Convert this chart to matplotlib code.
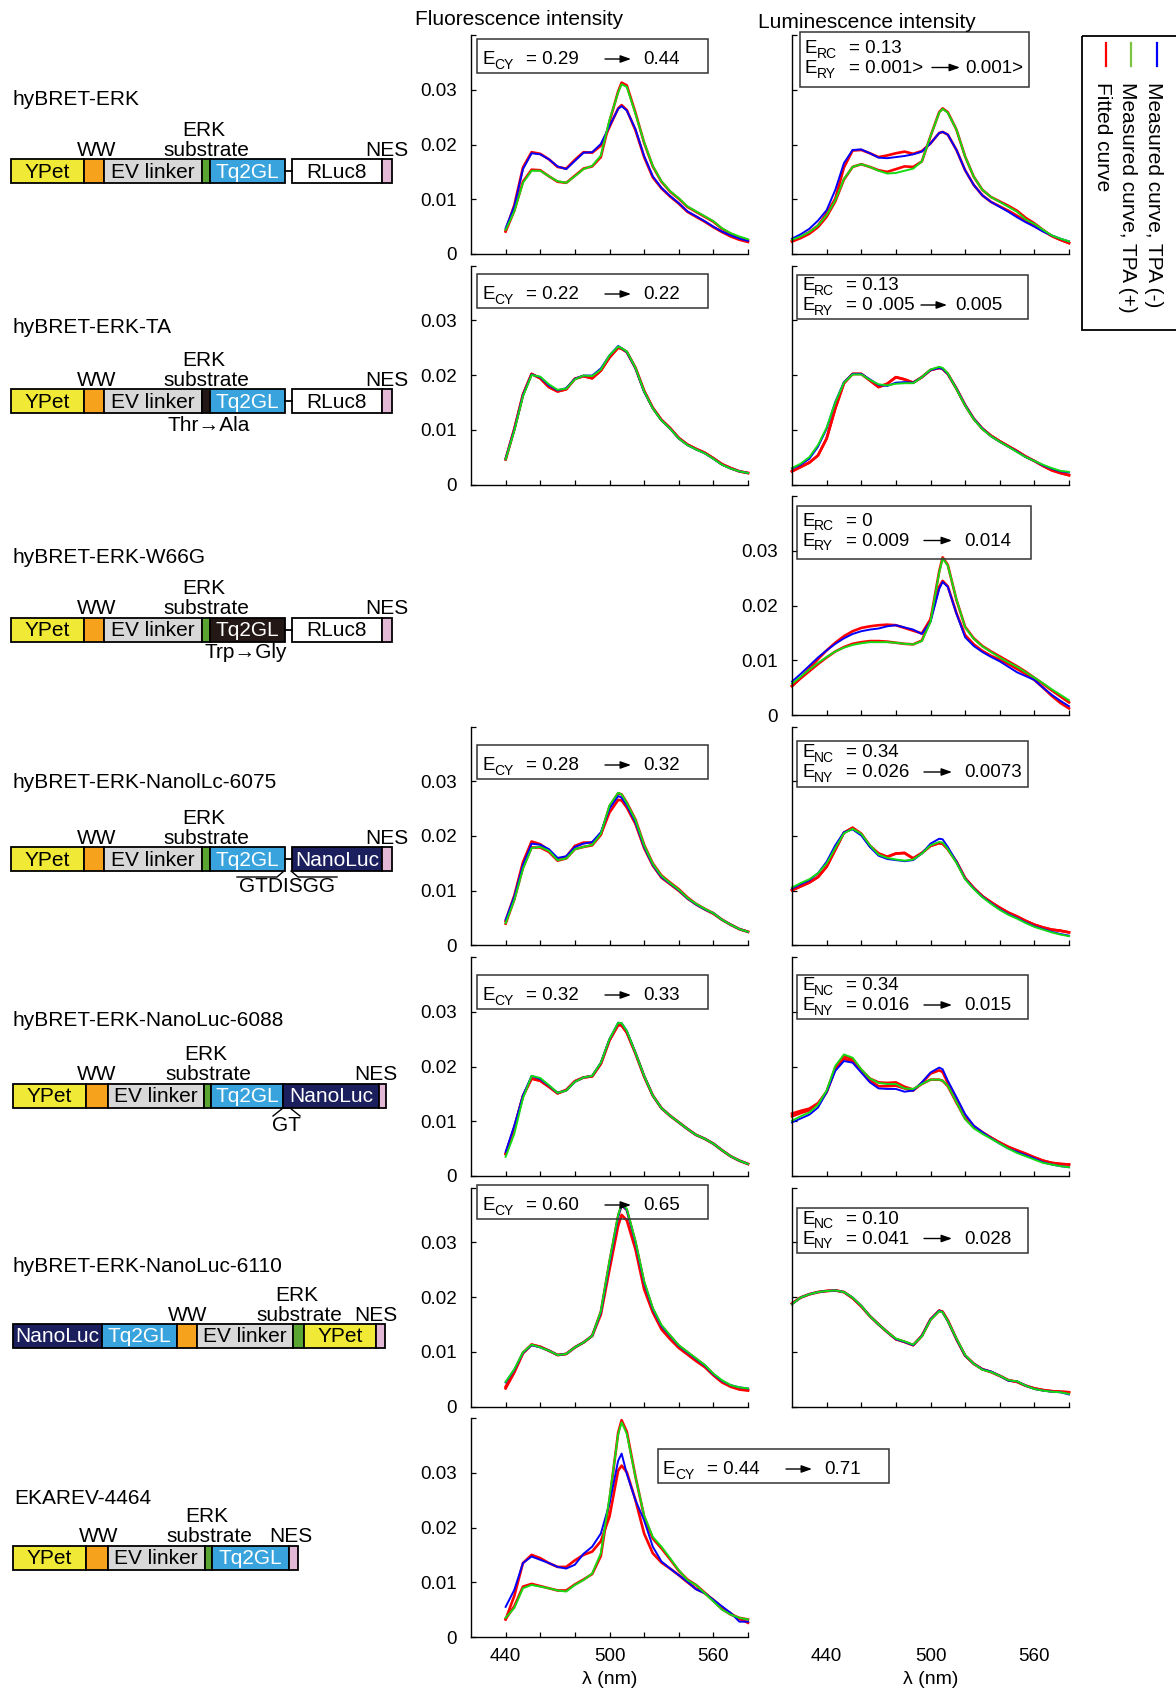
import numpy as np
import matplotlib
matplotlib.use('Agg')
import matplotlib.pyplot as plt
from matplotlib.patches import Rectangle

plt.rcParams['font.family'] = ['Liberation Sans', 'DejaVu Sans']

# Figure size in pixels
W, H = 1176, 1689

# Wavelengths (nm); fluorescence spectra start at 440, luminescence at 420
WL_F = [440, 445, 450, 455, 460, 465, 470, 475, 480, 485, 490, 495, 500, 505, 507,
        510, 515, 520, 525, 530, 535, 540, 545, 550, 555, 560, 565, 570, 575, 580]
WL_L = [420, 425, 430, 435] + WL_F

# Intensities, in units of 1e-3
# hyBRET-ERK
F1_BLUE = [4.7, 8.7, 15.5, 18.4, 18.2, 17.3, 16.0, 15.5, 17.0, 18.5, 18.6, 20.1, 23.4, 26.5, 27.0,
           26.2, 22.8, 17.9, 14.2, 12.1, 10.6, 9.3, 7.8, 6.9, 6.0, 5.0, 4.1, 3.4, 2.8, 2.4]
F1_GREEN = [4.4, 7.8, 13.0, 15.2, 15.2, 14.2, 13.3, 13.0, 14.2, 15.5, 16.1, 18.0, 24.5, 29.5, 31.0,
            30.5, 25.6, 20.4, 16.1, 13.3, 11.5, 10.2, 8.7, 7.8, 6.9, 6.0, 4.7, 3.8, 3.2, 2.7]
F1_FIT_M = [4.3, 8.9, 15.8, 18.6, 18.3, 17.3, 15.9, 15.6, 17.2, 18.6, 18.5, 19.8, 23.2, 26.6, 27.2,
            26.3, 22.6, 17.7, 14.0, 12.0, 10.5, 9.2, 7.7, 6.8, 5.9, 4.9, 4.0, 3.2, 2.6, 2.2]
F1_FIT_P = [4.1, 7.9, 13.2, 15.4, 15.3, 14.2, 13.2, 13.0, 14.3, 15.6, 16.0, 17.7, 24.2, 29.7, 31.3,
            30.8, 25.8, 20.3, 16.0, 13.2, 11.4, 10.1, 8.6, 7.7, 6.8, 5.9, 4.6, 3.7, 3.0, 2.5]
L1_BLUE = [2.8, 3.6, 4.6, 6.1, 8.0, 11.7, 16.6, 19.0, 19.1, 18.4, 17.6, 17.5, 17.7, 17.9, 18.2, 18.7, 20.2,
           22.1, 22.3, 21.8, 19.0, 15.3, 12.6, 10.7, 9.5, 8.6, 7.7, 6.7, 5.8, 5.0, 4.1, 3.4, 2.8, 2.3]
L1_GREEN = [2.6, 3.2, 4.0, 5.2, 7.1, 9.8, 13.7, 15.9, 16.4, 15.9, 15.2, 14.7, 14.8, 15.2, 15.6, 16.9, 21.5,
            25.8, 26.5, 25.8, 22.7, 17.8, 14.1, 11.7, 10.4, 9.5, 8.6, 7.7, 6.3, 5.5, 4.4, 3.4, 2.8, 2.3]
L1_FIT_M = [2.3, 3.1, 4.0, 5.2, 7.4, 10.1, 15.8, 18.9, 19.0, 18.4, 17.7, 18.0, 18.4, 18.7, 18.3, 18.8, 20.2,
            22.1, 22.3, 21.8, 19.0, 15.3, 12.6, 10.7, 9.5, 8.7, 7.9, 7.0, 6.0, 5.1, 4.2, 3.3, 2.6, 2.0]
L1_FIT_P = [2.3, 2.9, 3.7, 4.9, 6.8, 9.6, 13.6, 15.9, 16.4, 15.9, 15.3, 15.0, 15.5, 16.0, 15.9, 16.9, 21.5,
            25.9, 26.6, 25.9, 22.7, 17.8, 14.1, 11.7, 10.4, 9.6, 8.8, 7.9, 6.6, 5.6, 4.4, 3.3, 2.6, 2.0]

# hyBRET-ERK-TA
F2_BLUE = [4.7, 10.0, 16.3, 20.1, 19.6, 18.1, 17.2, 17.6, 19.3, 19.9, 19.9, 21.2, 23.6, 25.3, 24.9,
           24.2, 21.2, 16.9, 13.9, 11.7, 10.2, 8.4, 7.2, 6.4, 5.7, 4.7, 3.6, 2.9, 2.4, 2.1]
F2_GREEN = [4.6, 9.8, 16.1, 20.0, 19.7, 18.3, 17.3, 17.5, 19.2, 19.9, 19.8, 21.0, 23.6, 25.2, 24.9,
            24.3, 21.3, 17.0, 13.9, 11.7, 10.2, 8.4, 7.2, 6.4, 5.7, 4.7, 3.6, 2.9, 2.4, 2.1]
F2_FIT = [4.6, 10.1, 16.4, 20.2, 19.4, 17.8, 17.0, 17.4, 19.3, 19.8, 19.4, 20.8, 23.2, 25.0, 24.8,
          24.2, 21.3, 17.1, 14.0, 11.8, 10.3, 8.5, 7.3, 6.5, 5.8, 4.8, 3.7, 3.0, 2.4, 2.1]
L2_BLUE = [2.9, 3.6, 4.7, 6.9, 10.2, 15.1, 18.7, 20.2, 20.2, 19.2, 18.2, 18.0, 18.6, 18.7, 18.6, 19.6, 20.9,
           21.3, 21.1, 20.2, 17.5, 14.5, 12.0, 10.2, 8.8, 7.8, 6.9, 6.0, 5.0, 4.3, 3.5, 2.9, 2.4, 2.2]
L2_GREEN = [3.0, 3.8, 5.0, 7.2, 10.4, 15.0, 18.6, 20.1, 20.1, 19.1, 18.3, 18.1, 18.4, 18.5, 18.5, 19.6, 21.0,
            21.5, 21.3, 20.3, 17.4, 14.4, 11.9, 10.1, 8.8, 7.8, 6.9, 5.9, 5.0, 4.3, 3.6, 3.0, 2.5, 2.3]
L2_FIT = [2.4, 3.2, 4.0, 5.3, 8.4, 13.9, 18.5, 20.2, 20.2, 19.0, 17.8, 18.4, 19.6, 19.2, 18.6, 19.6, 20.9,
          21.3, 21.1, 20.2, 17.5, 14.5, 12.0, 10.2, 8.9, 7.9, 7.0, 6.1, 5.1, 4.3, 3.4, 2.6, 2.1, 1.7]

# hyBRET-ERK-W66G
L3_BLUE = [6.1, 7.5, 9.0, 10.5, 11.8, 13.0, 14.0, 14.8, 15.3, 15.6, 15.8, 16.2, 16.4, 16.0, 15.6, 14.8, 17.0,
           23.0, 24.3, 23.4, 18.5, 14.2, 12.6, 11.5, 10.6, 9.8, 8.8, 7.8, 7.1, 6.4, 5.0, 3.7, 2.6, 1.6]
L3_GREEN = [5.7, 7.0, 8.3, 9.5, 10.6, 11.6, 12.3, 12.8, 13.1, 13.3, 13.3, 13.3, 13.2, 13.0, 12.9, 13.5, 17.0,
            26.0, 28.6, 27.3, 21.1, 16.0, 13.9, 12.5, 11.5, 10.5, 9.6, 8.8, 7.8, 6.8, 5.8, 4.7, 3.7, 2.7]
L3_FIT_M = [5.3, 6.8, 8.5, 10.2, 11.8, 13.2, 14.4, 15.3, 15.9, 16.2, 16.4, 16.5, 16.4, 15.9, 15.4, 14.9, 17.5,
            23.4, 24.5, 23.5, 18.6, 14.6, 12.9, 11.7, 10.8, 10.1, 9.3, 8.4, 7.5, 6.4, 5.0, 3.5, 2.2, 1.2]
L3_FIT_P = [5.3, 6.7, 8.0, 9.3, 10.5, 11.6, 12.4, 13.0, 13.3, 13.5, 13.5, 13.4, 13.2, 13.0, 12.9, 13.6, 17.3,
            26.2, 28.8, 27.4, 21.0, 16.1, 14.0, 12.6, 11.6, 10.7, 9.8, 8.9, 7.9, 6.8, 5.7, 4.5, 3.4, 2.3]

# hyBRET-ERK-NanolLc-6075
F4_BLUE = [4.7, 8.9, 14.7, 18.6, 18.4, 17.6, 16.0, 16.3, 18.0, 18.6, 18.9, 20.7, 25.0, 27.3, 27.0,
           25.6, 22.5, 18.0, 14.7, 12.5, 11.3, 10.1, 8.6, 7.5, 6.6, 5.9, 4.7, 3.8, 3.0, 2.5]
F4_GREEN = [4.1, 8.3, 14.0, 17.8, 18.0, 17.3, 15.6, 15.9, 17.6, 18.0, 18.4, 20.4, 25.6, 27.9, 27.6,
            26.0, 22.9, 18.3, 14.9, 12.7, 11.4, 10.2, 8.7, 7.6, 6.7, 5.9, 4.7, 3.8, 3.0, 2.5]
F4_FIT_M = [4.5, 9.1, 15.2, 19.0, 18.5, 17.4, 15.7, 16.2, 18.2, 18.8, 18.8, 20.3, 24.3, 26.6, 26.5,
            25.2, 22.2, 17.8, 14.6, 12.4, 11.2, 10.0, 8.6, 7.5, 6.6, 5.8, 4.7, 3.8, 3.0, 2.5]
F4_FIT_P = [4.0, 8.4, 14.2, 17.9, 17.9, 17.1, 15.5, 15.9, 17.6, 18.0, 18.3, 20.2, 25.4, 27.8, 27.6,
            26.1, 23.0, 18.4, 15.0, 12.8, 11.5, 10.3, 8.8, 7.6, 6.7, 5.9, 4.7, 3.8, 3.0, 2.5]
L4_BLUE = [10.4, 11.2, 11.9, 13.2, 15.3, 18.3, 20.7, 21.2, 20.1, 18.0, 16.4, 15.8, 15.6, 15.4, 15.6, 16.8, 18.6,
           19.5, 19.4, 18.0, 15.3, 12.2, 10.4, 8.9, 7.7, 6.6, 5.7, 5.0, 4.2, 3.5, 3.0, 2.5, 2.1, 1.8]
L4_GREEN = [10.6, 11.4, 12.1, 13.2, 15.0, 17.8, 20.5, 21.3, 20.4, 18.3, 16.6, 16.0, 15.7, 15.5, 15.7, 16.8, 18.3,
            18.9, 18.8, 17.6, 15.1, 12.1, 10.3, 8.8, 7.6, 6.5, 5.6, 4.9, 4.1, 3.4, 2.9, 2.4, 2.0, 1.7]
L4_FIT = [10.1, 10.8, 11.5, 12.5, 14.4, 17.5, 20.6, 21.5, 20.4, 18.2, 16.8, 16.2, 16.8, 16.9, 15.9, 16.9, 18.2,
          18.7, 18.6, 17.6, 15.3, 12.3, 10.5, 9.0, 7.9, 6.9, 6.0, 5.3, 4.5, 3.8, 3.3, 2.9, 2.7, 2.4]

# hyBRET-ERK-NanoLuc-6088
F5_BLUE = [4.4, 9.2, 14.7, 18.3, 17.7, 16.5, 15.2, 15.6, 17.2, 18.0, 18.3, 20.7, 25.0, 28.0, 27.9,
           26.5, 22.5, 18.3, 14.7, 12.4, 11.0, 9.8, 8.6, 7.5, 6.8, 5.9, 4.7, 3.6, 2.8, 2.2]
F5_GREEN = [3.5, 7.7, 14.2, 18.3, 17.9, 16.6, 15.2, 15.6, 17.2, 18.0, 18.3, 20.7, 25.0, 28.0, 27.9,
            26.5, 22.5, 18.3, 14.7, 12.4, 11.0, 9.8, 8.6, 7.5, 6.8, 5.9, 4.7, 3.6, 2.8, 2.2]
F5_FIT = [4.0, 8.8, 14.6, 17.8, 17.4, 16.3, 15.1, 15.7, 17.3, 18.0, 18.2, 20.5, 24.8, 27.6, 27.5,
          26.2, 22.4, 18.2, 14.7, 12.4, 11.0, 9.8, 8.6, 7.5, 6.8, 5.9, 4.7, 3.6, 2.8, 2.2]
L5_BLUE = [9.8, 10.5, 11.2, 12.5, 15.3, 19.2, 21.0, 20.7, 18.9, 17.1, 16.0, 15.9, 15.9, 15.4, 15.6, 17.1, 18.9,
           19.8, 19.5, 17.4, 14.4, 11.3, 9.2, 8.0, 6.9, 5.9, 5.0, 4.4, 3.8, 3.2, 2.5, 2.1, 1.8, 1.6]
L5_GREEN = [10.1, 10.9, 11.6, 13.0, 15.6, 20.1, 22.2, 21.6, 19.5, 17.8, 17.0, 16.8, 16.8, 16.0, 15.9, 16.8, 17.6,
            17.6, 17.4, 16.5, 13.5, 10.4, 8.7, 7.7, 6.8, 5.9, 5.0, 4.2, 3.6, 3.0, 2.4, 2.1, 1.8, 1.6]
L5_FIT_M = [10.9, 11.5, 12.0, 13.0, 15.3, 19.5, 21.4, 21.0, 19.2, 17.4, 16.4, 16.4, 16.5, 16.0, 15.6, 17.0, 18.7,
            19.3, 19.0, 17.0, 14.0, 11.0, 9.1, 8.0, 7.0, 6.1, 5.3, 4.7, 4.1, 3.4, 2.8, 2.4, 2.2, 2.1]
L5_FIT_P = [11.4, 11.9, 12.3, 13.3, 15.4, 19.8, 21.9, 21.4, 19.4, 17.8, 17.1, 17.0, 17.1, 16.3, 15.8, 16.8, 17.6,
            17.6, 17.4, 16.4, 13.4, 10.5, 8.9, 7.9, 7.0, 6.1, 5.3, 4.6, 4.0, 3.4, 2.8, 2.4, 2.2, 2.1]

# hyBRET-ERK-NanoLuc-6110
F6_BLUE = [4.4, 6.7, 9.8, 11.2, 10.8, 10.2, 9.4, 9.6, 10.8, 11.7, 12.9, 17.2, 26.2, 34.7, 36.8,
           35.9, 29.9, 22.6, 17.8, 14.7, 12.9, 11.1, 9.9, 8.7, 7.5, 5.9, 4.7, 3.9, 3.5, 3.3]
F6_GREEN = [4.5, 6.8, 9.9, 11.3, 10.8, 10.2, 9.4, 9.6, 10.8, 11.7, 12.9, 17.4, 26.6, 35.0, 37.0,
            36.1, 30.2, 22.9, 18.0, 14.9, 13.0, 11.2, 10.0, 8.8, 7.6, 6.0, 4.8, 3.9, 3.5, 3.3]
F6_FIT_M = [3.3, 6.2, 9.7, 11.3, 10.9, 10.2, 9.4, 9.6, 10.8, 11.7, 12.9, 16.8, 25.0, 33.0, 35.0,
            34.0, 28.7, 21.4, 17.2, 14.1, 12.3, 10.7, 9.5, 8.3, 7.2, 5.7, 4.4, 3.6, 3.1, 2.9]
F6_FIT_P = [3.6, 6.4, 9.8, 11.3, 10.9, 10.2, 9.4, 9.6, 10.8, 11.7, 12.9, 17.3, 26.4, 34.8, 36.8,
            35.9, 30.0, 22.6, 17.8, 14.7, 12.9, 11.1, 9.9, 8.7, 7.5, 5.9, 4.6, 3.8, 3.3, 3.1]
L6_BLUE = [18.7, 19.9, 20.5, 20.9, 21.1, 21.2, 20.9, 19.9, 18.4, 16.5, 15.0, 13.6, 12.3, 11.8, 11.2, 12.9, 15.9,
           17.5, 17.2, 15.6, 12.3, 9.3, 7.8, 6.8, 6.4, 5.6, 4.7, 4.6, 3.8, 3.2, 2.9, 2.7, 2.6, 2.2]
L6_GREEN = [18.7, 19.9, 20.5, 20.9, 21.1, 21.2, 20.9, 19.9, 18.4, 16.5, 15.0, 13.6, 12.4, 11.9, 11.3, 12.8, 15.8,
            17.4, 17.2, 15.6, 12.4, 9.4, 7.8, 6.7, 6.3, 5.6, 4.8, 4.6, 3.8, 3.2, 2.9, 2.7, 2.6, 2.3]
L6_FIT = [18.8, 19.9, 20.5, 20.9, 21.1, 21.2, 20.9, 19.8, 18.3, 16.5, 15.0, 13.6, 12.3, 11.8, 11.2, 12.9, 15.9,
          17.5, 17.3, 15.7, 12.3, 9.3, 7.8, 6.8, 6.3, 5.6, 4.8, 4.5, 3.8, 3.3, 3.0, 2.8, 2.7, 2.6]

# EKAREV-4464
F7_BLUE = [5.5, 8.6, 13.5, 14.7, 14.1, 13.5, 12.8, 12.5, 13.2, 15.2, 16.5, 18.9, 24.4, 32.2, 33.5,
           29.8, 25.0, 21.3, 16.5, 13.8, 12.5, 11.3, 10.1, 8.7, 8.0, 6.8, 5.6, 4.4, 2.8, 2.8]
F7_GREEN = [3.5, 5.3, 8.9, 9.5, 9.2, 8.9, 8.5, 8.3, 9.5, 10.4, 11.6, 15.3, 25.5, 37.0, 39.2,
            37.1, 29.2, 22.2, 18.3, 16.5, 14.4, 12.2, 10.4, 9.5, 8.0, 6.5, 5.0, 4.1, 3.5, 3.2]
F7_FIT_M = [3.2, 7.5, 13.5, 15.0, 14.4, 13.5, 12.8, 12.8, 14.0, 15.0, 15.6, 17.5, 22.0, 30.4, 31.3,
            30.1, 25.0, 18.9, 15.3, 13.6, 12.5, 11.3, 10.0, 8.8, 8.0, 6.8, 5.4, 4.3, 3.3, 2.6]
F7_FIT_P = [3.3, 5.6, 9.2, 9.7, 9.3, 8.9, 8.5, 8.5, 9.6, 10.5, 11.5, 14.8, 25.0, 37.3, 39.6,
            37.5, 29.3, 22.0, 18.0, 16.2, 14.2, 12.1, 10.5, 9.5, 8.1, 6.6, 5.1, 4.1, 3.5, 3.2]

# (row, column, wavelengths, TPA(-), TPA(+), fit(-), fit(+))
PANELS = [
    (0, 'F', WL_F, F1_BLUE, F1_GREEN, F1_FIT_M, F1_FIT_P),
    (0, 'L', WL_L, L1_BLUE, L1_GREEN, L1_FIT_M, L1_FIT_P),
    (1, 'F', WL_F, F2_BLUE, F2_GREEN, F2_FIT, F2_FIT),
    (1, 'L', WL_L, L2_BLUE, L2_GREEN, L2_FIT, L2_FIT),
    (2, 'L', WL_L, L3_BLUE, L3_GREEN, L3_FIT_M, L3_FIT_P),
    (3, 'F', WL_F, F4_BLUE, F4_GREEN, F4_FIT_M, F4_FIT_P),
    (3, 'L', WL_L, L4_BLUE, L4_GREEN, L4_FIT, L4_FIT),
    (4, 'F', WL_F, F5_BLUE, F5_GREEN, F5_FIT, F5_FIT),
    (4, 'L', WL_L, L5_BLUE, L5_GREEN, L5_FIT_M, L5_FIT_P),
    (5, 'F', WL_F, F6_BLUE, F6_GREEN, F6_FIT_M, F6_FIT_P),
    (5, 'L', WL_L, L6_BLUE, L6_GREEN, L6_FIT, L6_FIT),
    (6, 'F', WL_F, F7_BLUE, F7_GREEN, F7_FIT_M, F7_FIT_P),
]

NAMES = ['hyBRET-ERK', 'hyBRET-ERK-TA', 'hyBRET-ERK-W66G', 'hyBRET-ERK-NanolLc-6075',
         'hyBRET-ERK-NanoLuc-6088', 'hyBRET-ERK-NanoLuc-6110', 'EKAREV-4464']

# layout (pixels, origin top-left)
ROW_BOTTOM = [254 + 230.5 * r for r in range(7)]
AX_H = 219
AX_W = 277
COL_LEFT = {'F': 471, 'L': 792}
RED, GREEN, BLUE = '#ff0000', '#14dc14', '#0000ff'
TICK_FS = 13.5

fig = plt.figure(figsize=(W / 100, H / 100), dpi=100)


def make_axes(row, col):
    b = ROW_BOTTOM[row]
    ax = fig.add_axes([COL_LEFT[col] / W, 1 - b / H, AX_W / W, AX_H / H])
    ax.set_xlim(420, 580)
    ax.set_ylim(0, 0.04)
    for s in ['top', 'right']:
        ax.spines[s].set_visible(False)
    for s in ['left', 'bottom']:
        ax.spines[s].set_linewidth(1.0)
    ax.set_xticks(range(440, 581, 20))
    ax.set_yticks([0, 0.01, 0.02, 0.03, 0.04])
    ax.tick_params(direction='in', length=3.5, width=0.9, labelsize=TICK_FS)
    ax.tick_params(axis='y', pad=10)
    ax.tick_params(axis='x', pad=8)
    ax.set_xticklabels([])
    if col == 'F' or row == 2:
        ax.set_yticklabels(['0', '0.01', '0.02', '0.03', ''])
    else:
        ax.set_yticklabels([])
    return ax


for row, col, wl, blue, green, fit_m, fit_p in PANELS:
    ax = make_axes(row, col)
    x = np.array(wl)
    ax.plot(x, np.array(fit_m) * 1e-3, color=RED, lw=1.9, clip_on=False)
    ax.plot(x, np.array(fit_p) * 1e-3, color=RED, lw=1.9, clip_on=False)
    ax.plot(x, np.array(blue) * 1e-3, color=BLUE, lw=1.4, clip_on=False)
    ax.plot(x, np.array(green) * 1e-3, color=GREEN, lw=1.4, clip_on=False)
    if row == 6:
        ax.set_xticklabels(['440', '', '', '500', '', '', '560', ''])
        ax.set_xlabel('\u03bb (nm)', fontsize=14, labelpad=4)

# bottom labels under the empty luminescence slot
axl = make_axes(6, 'L')
for s in axl.spines.values():
    s.set_visible(False)
axl.set_yticks([])
axl.set_xticks([440, 500, 560])
axl.set_xticklabels(['440', '500', '560'])
axl.tick_params(axis='x', length=0, pad=8)
axl.set_xlabel('\u03bb (nm)', fontsize=14, labelpad=4)
axl.patch.set_visible(False)

# overlay in pixel coordinates for diagrams, boxes and legend
ov = fig.add_axes([0, 0, 1, 1], zorder=10)
ov.set_xlim(0, W)
ov.set_ylim(H, 0)
ov.axis('off')
ov.patch.set_visible(False)

ov.text(519, 19, 'Fluorescence intensity', ha='center', va='center', fontsize=15)
ov.text(867, 22, 'Luminescence intensity', ha='center', va='center', fontsize=15)

# construct diagrams
YPET, WWC, EV, SUB, TQ, NANO, NES, DARK = ('#f0e936', '#f6a21c', '#d8d8d8', '#5aa532',
                                           '#38a3dc', '#1c1f5e', '#e3b8d6', '#231815')
BAR_H = 24


def std_segments(sub_c, tq_c, luc_c, luc_name, luc_tc):
    return [(11, 84, YPET, 'YPet', 'k'), (84, 104, WWC, '', 'k'), (104, 202, EV, 'EV linker', 'k'),
            (202, 210, sub_c, '', 'k'), (210, 285, tq_c, 'Tq2GL', 'w'),
            (292, 382, luc_c, luc_name, luc_tc), (382, 392, NES, '', 'k')]


CONSTRUCTS = [
    # title baseline, bar top, segments, connector, (WW x, ERK x, NES x)
    (105, 159, std_segments(SUB, TQ, 'white', 'RLuc8', 'k'), (285, 292), (96.7, 206, 386.7)),
    (333, 389, std_segments(DARK, TQ, 'white', 'RLuc8', 'k'), (285, 292), (96.7, 206, 386.7)),
    (563, 617.5, std_segments(SUB, DARK, 'white', 'RLuc8', 'k'), (285, 292), (96.7, 206, 386.7)),
    (788, 847, std_segments(SUB, TQ, NANO, 'NanoLuc', 'w'), (285, 292), (96.7, 206, 386.7)),
    (1026, 1083.5, [(13, 86, YPET, 'YPet', 'k'), (86, 108, WWC, '', 'k'), (108, 203.5, EV, 'EV linker', 'k'),
                    (203.5, 211, SUB, '', 'k'), (211, 283, TQ, 'Tq2GL', 'w'),
                    (283, 379, NANO, 'NanoLuc', 'w'), (379, 385.5, NES, '', 'k')], None, (97, 208, 376)),
    (1272.5, 1324, [(12.7, 101.7, NANO, 'NanoLuc', 'w'), (101.7, 176.7, TQ, 'Tq2GL', 'w'),
                    (176.7, 197.3, WWC, '', 'k'), (197.3, 293.3, EV, 'EV linker', 'k'),
                    (293.3, 304, SUB, '', 'k'), (304, 375.7, YPET, 'YPet', 'k'),
                    (375.7, 385, NES, '', 'k')], None, (187.7, 299, 376)),
    (1504, 1545.5, [(13, 86, YPET, 'YPet', 'k'), (86, 108, WWC, '', 'k'), (108, 204.6, EV, 'EV linker', 'k'),
                    (204.6, 212.2, SUB, '', 'k'), (212.2, 288.6, TQ, 'Tq2GL', 'w'),
                    (288.6, 298.3, NES, '', 'k')], None, (99, 209, 291)),
]

FS = 15
for i, (tb, top, segs, conn, (wwx, erkx, nesx)) in enumerate(CONSTRUCTS):
    ov.text(12 if i < 6 else 14, tb, NAMES[i], fontsize=FS, va='baseline', ha='left')
    for x0, x1, c, name, tc in segs:
        ov.add_patch(Rectangle((x0, top), x1 - x0, BAR_H, fc=c, ec='k', lw=1.3))
        if name:
            ov.text((x0 + x1) / 2, top + BAR_H / 2 + 1, name, color=tc, fontsize=FS,
                    ha='center', va='center')
    if conn:
        ov.plot(conn, [top + BAR_H / 2] * 2, color='k', lw=1.3)
    ov.text(wwx, top - 3, 'WW', fontsize=FS, ha='center', va='baseline')
    ov.text(erkx, top - 3, 'substrate', fontsize=FS, ha='center', va='baseline')
    ov.text(erkx - 2, top - 23, 'ERK', fontsize=FS, ha='center', va='baseline')
    ov.text(nesx, top - 3, 'NES', fontsize=FS, ha='center', va='baseline')

ov.text(209, 431, 'Thr\u2192Ala', fontsize=FS, ha='center', va='baseline')
ov.text(246, 658, 'Trp\u2192Gly', fontsize=FS, ha='center', va='baseline')
ov.text(286.5, 892, 'GTDISGG', fontsize=FS, ha='center', va='baseline')
ov.plot([237, 277, 284], [877, 877, 871], color='k', lw=1.0)
ov.plot([291, 298, 337], [871, 877, 877], color='k', lw=1.0)
ov.text(286.5, 1131, 'GT', fontsize=FS, ha='center', va='baseline')
ov.plot([273, 283, 290, 300], [1116, 1108, 1108, 1116], color='k', lw=1.0)

# efficiency boxes
BOX_FS = 13.5
SUB_FS = 10


def arrow(x1, x2, y):
    ov.annotate('', xy=(x2, y), xytext=(x1, y),
                arrowprops=dict(arrowstyle='-|>,head_length=0.45,head_width=0.16', color='k',
                                lw=1.0, shrinkA=0, shrinkB=0, mutation_scale=14))


def e_line(left, base, sub, v1, v2, a0, a1, v2x):
    ov.text(left + 5, base, 'E', fontsize=BOX_FS, va='baseline')
    ov.text(left + 17, base + 5, sub, fontsize=SUB_FS, va='baseline')
    ov.text(left + 49, base, '= ' + v1, fontsize=BOX_FS, va='baseline')
    if v2 is not None:
        arrow(left + a0, left + a1, base - 5)
        ov.text(left + v2x, base, v2, fontsize=BOX_FS, va='baseline')


FLUOR_BOXES = [
    (477, 39, 'CY', '0.29', '0.44'),
    (477, 274, 'CY', '0.22', '0.22'),
    (477, 745, 'CY', '0.28', '0.32'),
    (477, 975, 'CY', '0.32', '0.33'),
    (477, 1185, 'CY', '0.60', '0.65'),
    (658, 1449, 'CY', '0.44', '0.71'),
]
for left, top, sub, v1, v2 in FLUOR_BOXES:
    ov.add_patch(Rectangle((left, top), 231, 34, fc='none', ec='#333333', lw=1.1))
    e_line(left, top + 25, sub, v1, v2, 128, 154, 166)

LUM_BOXES = [
    (800, 32, 229, 55, ('RC', '0.13'), ('RY', '0.001>', '0.001>'), (132, 160, 165)),
    (797, 275, 231, 44, ('RC', '0.13'), ('RY', '0 .005', '0.005'), (124, 150, 158)),
    (797, 506, 234, 53, ('RC', '0'), ('RY', '0.009', '0.014'), (127, 155, 167)),
    (797, 741, 231, 46, ('NC', '0.34'), ('NY', '0.026', '0.0073'), (127, 155, 167)),
    (797, 975, 231, 44, ('NC', '0.34'), ('NY', '0.016', '0.015'), (127, 155, 167)),
    (797, 1208, 231, 45, ('NC', '0.10'), ('NY', '0.041', '0.028'), (127, 155, 167)),
]
for left, top, w, h, l1, l2, (a0, a1, v2x) in LUM_BOXES:
    ov.add_patch(Rectangle((left, top), w, h, fc='none', ec='#333333', lw=1.1))
    b1 = top + h / 2 - 7
    e_line(left, b1, l1[0], l1[1], None, 0, 0, 0)
    e_line(left, b1 + 20, l2[0], l2[1], l2[2], a0, a1, v2x)

# legend (rotated)
ov.add_patch(Rectangle((1082, 36), 120, 294, fc='none', ec='k', lw=1.3))
LEG = [(1105.5, RED, 'Fitted curve'), (1131, '#7dc242', 'Measured curve, TPA (+)'),
       (1157, BLUE, 'Measured curve, TPA (-)')]
for x, c, label in LEG:
    ov.plot([x, x], [43, 66], color=c, lw=1.6)
    ov.text(x - 3, 82, label, rotation=-90, fontsize=15, ha='center', va='top')

fig.savefig('out.png', dpi=100)
